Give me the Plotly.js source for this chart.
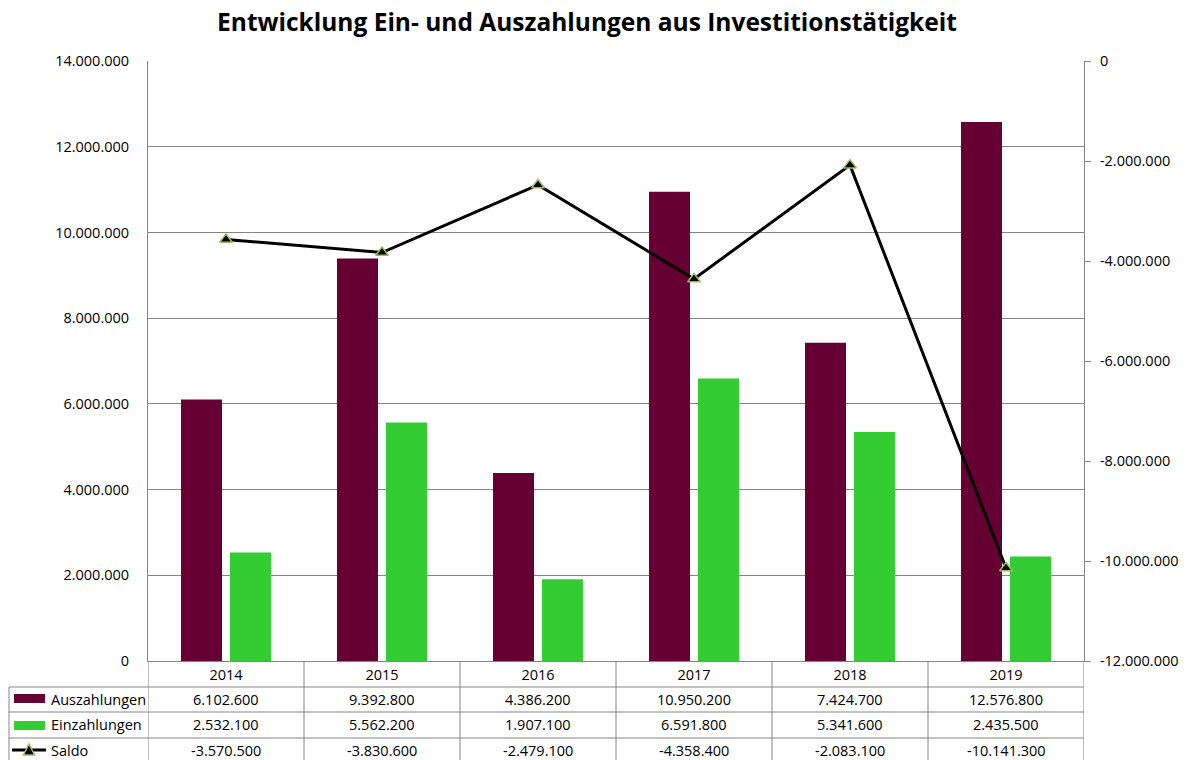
<!DOCTYPE html>
<html><head><meta charset="utf-8">
<script src="https://cdn.plot.ly/plotly-3.0.1.min.js"></script>
<style>html,body{margin:0;padding:0;background:#fff}</style>
</head><body><div id="chart" style="width:1187px;height:760px"></div>
<script>
const years = ['2014','2015','2016','2017','2018','2019'];
const auszahlungen = [6102600, 9392800, 4386200, 10950200, 7424700, 12576800];
const einzahlungen = [2532100, 5562200, 1907100, 6591800, 5341600, 2435500];
const saldo = [-3570500, -3830600, -2479100, -4358400, -2083100, -10141300];
const leftTicks = [0, 2000000, 4000000, 6000000, 8000000, 10000000, 12000000, 14000000];
const rightTicks = [-12000000, -10000000, -8000000, -6000000, -4000000, -2000000, 0];
const seriesNames = ['Auszahlungen', 'Einzahlungen', 'Saldo'];

const C_AUS = '#660033', C_EIN = '#33CC33', C_GRID = '#868686', C_MK = '#9bbb59';
const FONT = 'Open Sans, Noto Sans, sans-serif';
const FS = 14.5;

function de(v) {
  const s = Math.abs(Math.round(v)).toString().replace(/\B(?=(\d{3})+(?!\d))/g, '.');
  return (v < 0 ? '-' : '') + s;
}

const W = 1187, H = 760, L = 148, R = 1084, T = 61, B = 661;
const px = x => (x - L) / (R - L);
const py = y => (B - y) / (B - T);

const traces = [
  {type: 'bar', name: seriesNames[0], x: years, y: auszahlungen, marker: {color: C_AUS}, yaxis: 'y'},
  {type: 'bar', name: seriesNames[1], x: years, y: einzahlungen, marker: {color: C_EIN}, yaxis: 'y'},
  {type: 'scatter', mode: 'lines+markers', name: seriesNames[2], x: years, y: saldo, yaxis: 'y2',
   line: {color: '#000', width: 3},
   marker: {symbol: 'triangle-up', size: 11, color: '#000', line: {color: C_MK, width: 1.5}}}
];

const shapes = [];
const annotations = [];
const lineStyle = {color: C_GRID, width: 1};
const rowLines = [687, 712, 738];
const rowCenters = [699, 724, 750];
const tableBottom = 770;

rowLines.forEach(y => shapes.push({type: 'line', xref: 'paper', yref: 'paper', x0: px(9), x1: 1, y0: py(y), y1: py(y), line: lineStyle}));
shapes.push({type: 'line', xref: 'paper', yref: 'paper', x0: px(9), x1: px(9), y0: py(687), y1: py(tableBottom), line: lineStyle});
for (let i = 0; i <= years.length; i++) {
  shapes.push({type: 'line', xref: 'x', yref: 'paper', x0: i - 0.5, x1: i - 0.5, y0: 0, y1: py(tableBottom), line: lineStyle});
}
shapes.push({type: 'rect', xref: 'paper', yref: 'paper', x0: px(14), x1: px(45), y0: py(703), y1: py(694), fillcolor: C_AUS, line: {width: 0}});
shapes.push({type: 'rect', xref: 'paper', yref: 'paper', x0: px(14), x1: px(45), y0: py(730), y1: py(721), fillcolor: C_EIN, line: {width: 0}});
shapes.push({type: 'line', xref: 'paper', yref: 'paper', x0: px(12), x1: px(46), y0: py(750), y1: py(750), line: {color: '#000', width: 3}});
shapes.push({type: 'path', xref: 'paper', yref: 'paper',
  path: `M ${px(23.5)} ${py(755)} L ${px(34.5)} ${py(755)} L ${px(29)} ${py(744)} Z`,
  fillcolor: '#000', line: {color: C_MK, width: 1.5}});

seriesNames.forEach((n, r) => annotations.push({xref: 'paper', yref: 'paper', x: px(49), y: py(rowCenters[r]), xanchor: 'left', yanchor: 'middle', text: n, showarrow: false, font: {family: FONT, size: FS, color: '#000'}}));
[auszahlungen, einzahlungen, saldo].forEach((arr, r) => {
  arr.forEach((v, i) => annotations.push({xref: 'x', yref: 'paper', x: i, y: py(rowCenters[r]), xanchor: 'center', yanchor: 'middle', text: de(v), showarrow: false, font: {family: FONT, size: FS, color: '#000'}}));
});

const layout = {
  width: W, height: H,
  margin: {l: L, r: W - R, t: T, b: H - B, pad: 0},
  paper_bgcolor: '#fff', plot_bgcolor: '#fff',
  font: {family: FONT, size: FS, color: '#000'},
  title: {text: '<b>Entwicklung Ein- und Auszahlungen aus Investitionstätigkeit</b>', xref: 'container', yref: 'container', x: 587 / W, y: 1 - 22 / H, xanchor: 'center', yanchor: 'middle', font: {family: FONT, size: 24.5, color: '#000'}},
  showlegend: false,
  barmode: 'group', bargap: 0.372, bargroupgap: 0.163,
  xaxis: {type: 'category', range: [-0.5, years.length - 0.5], showline: true, linecolor: C_GRID, linewidth: 1, ticks: '', showgrid: false, zeroline: false, tickfont: {size: FS}, ticklabelstandoff: 1, fixedrange: true},
  yaxis: {range: [0, 14000000], tickvals: leftTicks, ticktext: leftTicks.map(de), showgrid: true, gridcolor: C_GRID, gridwidth: 1, showline: true, linecolor: C_GRID, ticks: '', zeroline: false, ticklabelstandoff: 15, tickfont: {size: FS}},
  yaxis2: {overlaying: 'y', side: 'right', range: [-12000000, 0], tickvals: rightTicks, ticktext: rightTicks.map(de), showgrid: false, showline: true, linecolor: C_GRID, ticks: 'outside', ticklen: 6, tickcolor: C_GRID, zeroline: false, ticklabelstandoff: 6, tickfont: {size: FS}},
  shapes: shapes,
  annotations: annotations
};

Plotly.newPlot('chart', traces, layout, {displayModeBar: false, staticPlot: true});
</script>
</body></html>
